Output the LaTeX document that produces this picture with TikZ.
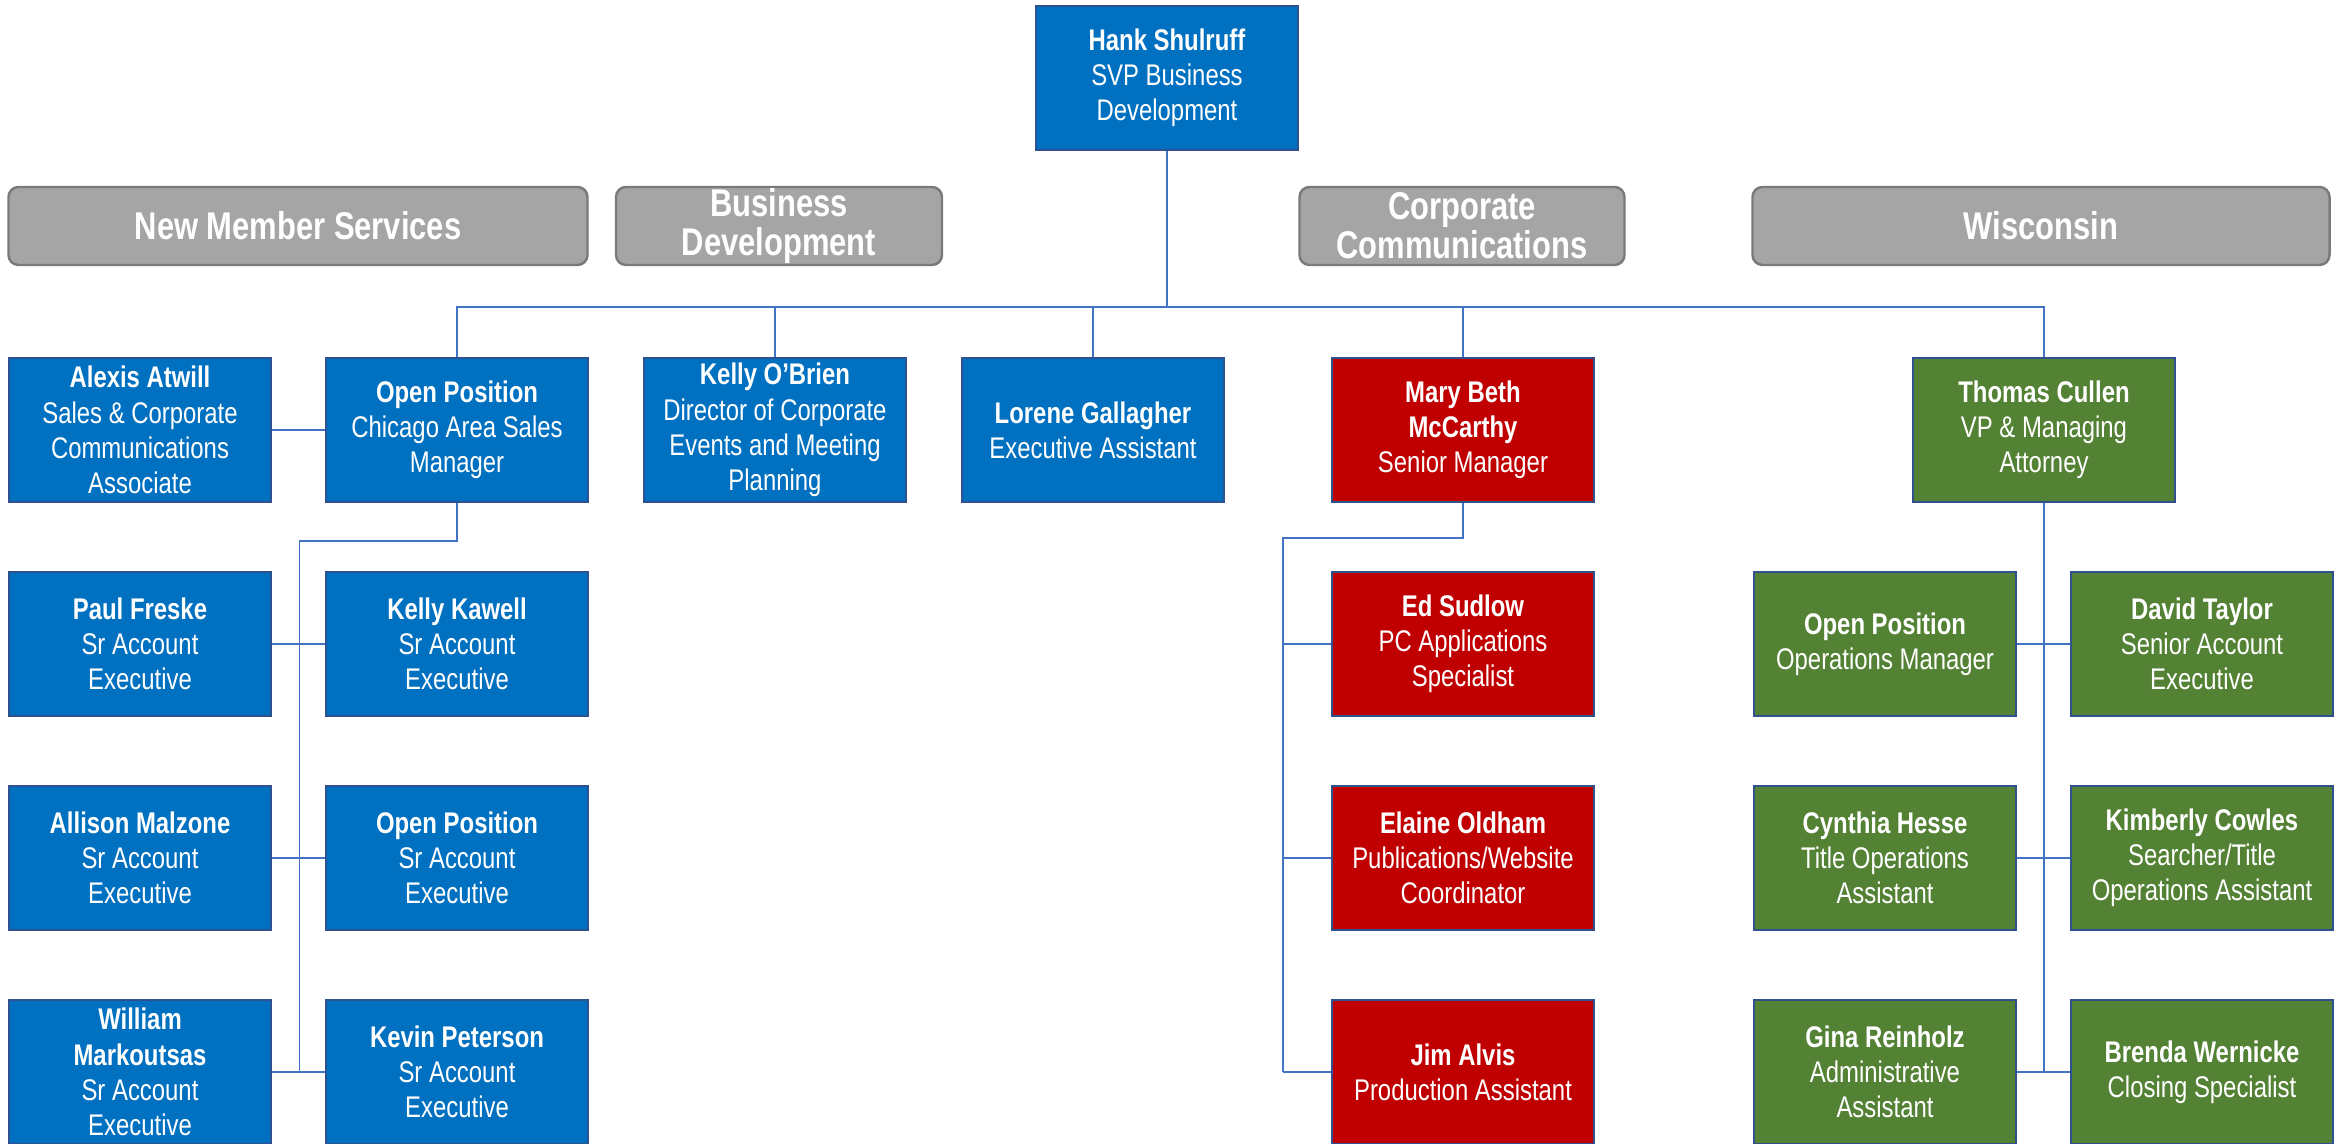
\documentclass[tikz,border=0pt]{standalone}
\usepackage{fontspec}
\setmainfont{Liberation Sans}[FakeStretch=0.80]
\usetikzlibrary{shapes}

\definecolor{boxblue}{HTML}{0070C0}
\definecolor{boxred}{HTML}{C00000}
\definecolor{boxgreen}{HTML}{548235}
\definecolor{boxedge}{HTML}{2F528F}
\definecolor{headgray}{HTML}{A5A5A5}
\definecolor{headedge}{HTML}{7A7A7A}
\definecolor{linkblue}{HTML}{4472C4}

\begin{document}
\begin{tikzpicture}[node distance = 3.17cm, auto]

\tikzstyle{block} = [rectangle, draw=boxedge, line width=0.6pt, fill=boxblue,
text=white, minimum width=2.62cm, minimum height=1.44cm, align=center,
inner sep=1pt, font=\fontsize{8.5}{10}\selectfont]
\tikzstyle{redblock} = [block, fill=boxred]
\tikzstyle{greenblock} = [block, fill=boxgreen]
\tikzstyle{head} = [rectangle, rounded corners=1mm, draw=headedge, line width=0.7pt,
fill=headgray, text=white, minimum height=0.78cm, inner ysep=0pt, align=center,
font=\fontsize{11}{11}\selectfont\bfseries]
\tikzstyle{line} = [draw=linkblue, line width=0.5pt]

\useasboundingbox (0,0) rectangle (23.46,-11.44);

\node [block] (hank) at (11.67,-0.78) {\textbf{Hank Shulruff}\\SVP Business\\Development};

% department headers
\node [head, minimum width=5.79cm] (nms) at (2.98,-2.26) {New Member Services};
\node [head, minimum width=3.26cm] (bizdev) at (7.79,-2.26) {Business\\Development};
\node [head, minimum width=3.25cm] (corpcom) at (14.62,-2.26) {Corporate\\Communications};
\node [head, minimum width=5.77cm] (wisc) at (20.41,-2.26) {Wisconsin};

% first row
\node [block] (chicago) at (4.57,-4.30) {\textbf{Open Position}\\Chicago Area Sales\\Manager};
\node [block, left of=chicago] (alexis) {\textbf{Alexis Atwill}\\Sales \& Corporate\\Communications\\Associate};
\node [block, right of=chicago, node distance=3.18cm] (kelly) {\textbf{Kelly O’Brien}\\Director of Corporate\\Events and Meeting\\Planning};
\node [block, right of=kelly, node distance=3.18cm] (lorene) {\textbf{Lorene Gallagher}\\Executive Assistant};
\node [redblock] (mary) at (14.63,-4.30) {\textbf{Mary Beth}\\\textbf{McCarthy}\\Senior Manager};
\node [greenblock] (thomas) at (20.44,-4.30) {\textbf{Thomas Cullen}\\VP \& Managing\\Attorney};

% chicago sales team
\node [block, below of=alexis, node distance=2.14cm] (paul) {\textbf{Paul Freske}\\Sr Account\\Executive};
\node [block, below of=paul, node distance=2.14cm] (allison) {\textbf{Allison Malzone}\\Sr Account\\Executive};
\node [block, below of=allison, node distance=2.14cm] (william) {\textbf{William}\\\textbf{Markoutsas}\\Sr Account\\Executive};
\node [block, below of=chicago, node distance=2.14cm] (kawell) {\textbf{Kelly Kawell}\\Sr Account\\Executive};
\node [block, below of=kawell, node distance=2.14cm] (openacct) {\textbf{Open Position}\\Sr Account\\Executive};
\node [block, below of=openacct, node distance=2.14cm] (kevin) {\textbf{Kevin Peterson}\\Sr Account\\Executive};

% corporate communications team
\node [redblock, below of=mary, node distance=2.14cm] (ed) {\textbf{Ed Sudlow}\\PC Applications\\Specialist};
\node [redblock, below of=ed, node distance=2.14cm] (elaine) {\textbf{Elaine Oldham}\\Publications/Website\\Coordinator};
\node [redblock, below of=elaine, node distance=2.14cm] (jim) {\textbf{Jim Alvis}\\Production Assistant};

% wisconsin team
\node [greenblock] (opsmgr) at (18.85,-6.44) {\textbf{Open Position}\\Operations Manager};
\node [greenblock, right of=opsmgr] (david) {\textbf{David Taylor}\\Senior Account\\Executive};
\node [greenblock, below of=opsmgr, node distance=2.14cm] (cynthia) {\textbf{Cynthia Hesse}\\Title Operations\\Assistant};
\node [greenblock, right of=cynthia] (kimberly) {\textbf{Kimberly Cowles}\\Searcher/Title\\Operations Assistant};
\node [greenblock, below of=cynthia, node distance=2.14cm] (gina) {\textbf{Gina Reinholz}\\Administrative\\Assistant};
\node [greenblock, right of=gina] (brenda) {\textbf{Brenda Wernicke}\\Closing Specialist};

% reporting lines
\path [line] (hank.south) -- ++(0,-1.56) -| (chicago.north);
\path [line] (hank.south) -- ++(0,-1.56) -| (kelly.north);
\path [line] (hank.south) -- ++(0,-1.56) -| (lorene.north);
\path [line] (hank.south) -- ++(0,-1.56) -| (mary.north);
\path [line] (hank.south) -- ++(0,-1.56) -| (thomas.north);
\path [line] (alexis) -- (chicago);

\path [line] (chicago.south) -- ++(0,-0.38) -| ([xshift=0.275cm]william.east);
\path [line] (paul) -- (kawell);
\path [line] (allison) -- (openacct);
\path [line] (william) -- (kevin);

\path [line] (mary.south) -- ++(0,-0.35) -| ([xshift=-0.48cm]jim.west);
\path [line] (ed.west) -- ++(-0.48,0);
\path [line] (elaine.west) -- ++(-0.48,0);
\path [line] (jim.west) -- ++(-0.48,0);

\path [line] (thomas.south) -- (thomas.south |- gina.east);
\path [line] (opsmgr) -- (david);
\path [line] (cynthia) -- (kimberly);
\path [line] (gina) -- (brenda);
\end{tikzpicture}
\end{document}
